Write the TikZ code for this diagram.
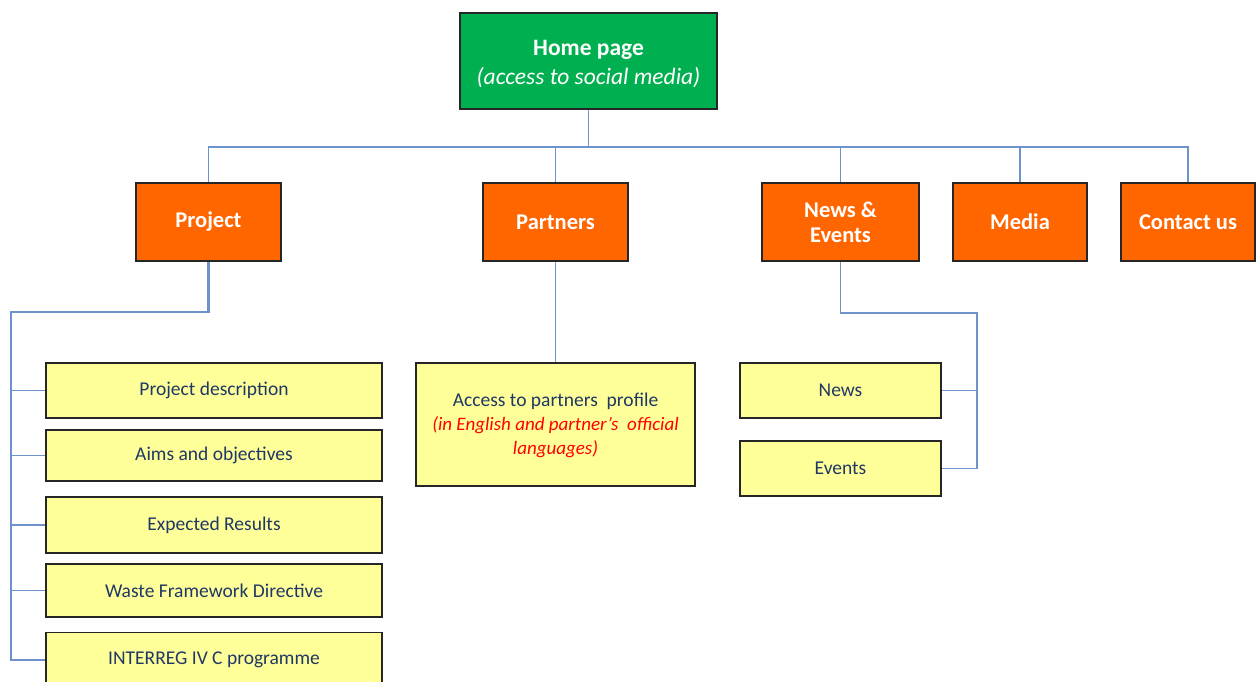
\documentclass[tikz,border=0pt]{standalone}
\usepackage{fontspec}
\setmainfont{Carlito}
\begin{document}
\begin{tikzpicture}[x=1pt,y=-1pt,
  box/.style={draw=black!85,line width=1.2pt,inner sep=0pt,align=center},
  greenbox/.style={box,fill=homegreen,text=white,font=\fontsize{23.5}{29}\selectfont},
  orangebox/.style={box,fill=secorange,text=white,font=\bfseries\fontsize{22.5}{25}\selectfont},
  yellowbox/.style={box,fill=subyellow,text=textblue,font=\fontsize{19.5}{23}\selectfont},
  conn/.style={draw=linkblue,line width=1.4pt},
  thickconn/.style={draw=linkblue,line width=2.2pt}]
\definecolor{homegreen}{HTML}{00B050}
\definecolor{secorange}{HTML}{FF6600}
\definecolor{subyellow}{HTML}{FFFF99}
\definecolor{textblue}{HTML}{1F3864}
\definecolor{linkblue}{HTML}{6E93CC}
\useasboundingbox (0,0) rectangle (1256,682);
\clip (0,0) rectangle (1256,682);
% top
\node[greenbox,minimum width=257pt,minimum height=96pt] (home) at (588.5,61) {};
\node[text=white,font=\fontsize{23.5}{29}\selectfont,align=center] (hometxt) at (588.5,64) {\textbf{Home page}\\\textit{(access to social media)}};
\node[orangebox,minimum width=145pt,minimum height=78pt] (project) at (208.5,222) {Project};
\node[orangebox,minimum width=145pt,minimum height=78pt] (partners) at (555.5,222) {Partners};
\node[orangebox,minimum width=157pt,minimum height=78pt] (news) at (840.5,222) {News \&\\Events};
\node[orangebox,minimum width=134pt,minimum height=78pt] (media) at (1020,222) {Media};
\node[orangebox,minimum width=134pt,minimum height=78pt] (contact) at (1188,222) {Contact us};
% project children
\node[yellowbox,minimum width=336pt,minimum height=55pt] (pd) at (214,390.5) {Project description};
\node[yellowbox,minimum width=336pt,minimum height=51pt] (aims) at (214,455.5) {Aims and objectives};
\node[yellowbox,minimum width=336pt,minimum height=56pt] (exp) at (214,525) {Expected Results};
\node[yellowbox,minimum width=336pt,minimum height=53pt] (waste) at (214,590.5) {Waste Framework Directive};
\node[yellowbox,minimum width=336pt,minimum height=56pt,anchor=north] (interreg) at (214,632) {\rule{0pt}{0pt}};
\node[text=textblue,font=\fontsize{19.5}{23}\selectfont] (interregtxt) at (214,660) {INTERREG IV C programme};
% partners child
\node[yellowbox,minimum width=279pt,minimum height=123pt] (profile) at (555.5,424.5) {};
\node[text=textblue,font=\fontsize{19.5}{23}\selectfont,anchor=center] (profiletxt) at (555.5,401) {Access to partners\ \ profile};
\node[text=red,font=\itshape\fontsize{19}{24}\selectfont,align=center,anchor=north] (profilelang) at (555.5,413) {(in English and partner's\ \ official\\languages)};
% news children
\node[yellowbox,minimum width=201pt,minimum height=55pt] (newsitem) at (840.5,390.5) {News};
\node[yellowbox,minimum width=201pt,minimum height=55pt] (events) at (840.5,468.5) {Events};
% connectors
\coordinate (bus) at (588.5,147);
\draw[conn] (home.south) -- (bus);
\draw[conn] (project.north) |- (bus) -| (contact.north);
\draw[conn] (partners.north) -- (partners.north |- bus);
\draw[conn] (news.north) -- (news.north |- bus);
\draw[conn] (media.north) -- (media.north |- bus);
\coordinate (pj) at (11,312);
\draw[thickconn] (project.south) |- (pj) -- (11,660) -- (interreg.west |- interregtxt);
\draw[conn] (11,390.5) -- (pd.west);
\draw[conn] (11,455.5) -- (aims.west);
\draw[conn] (11,525) -- (exp.west);
\draw[conn] (11,590.5) -- (waste.west);
\draw[conn] (partners.south) -- (profile.north);
\coordinate (nj) at (977,313);
\draw[conn] (news.south) |- (nj) |- (events.east);
\draw[conn] (nj |- newsitem.east) -- (newsitem.east);
\end{tikzpicture}
\end{document}
